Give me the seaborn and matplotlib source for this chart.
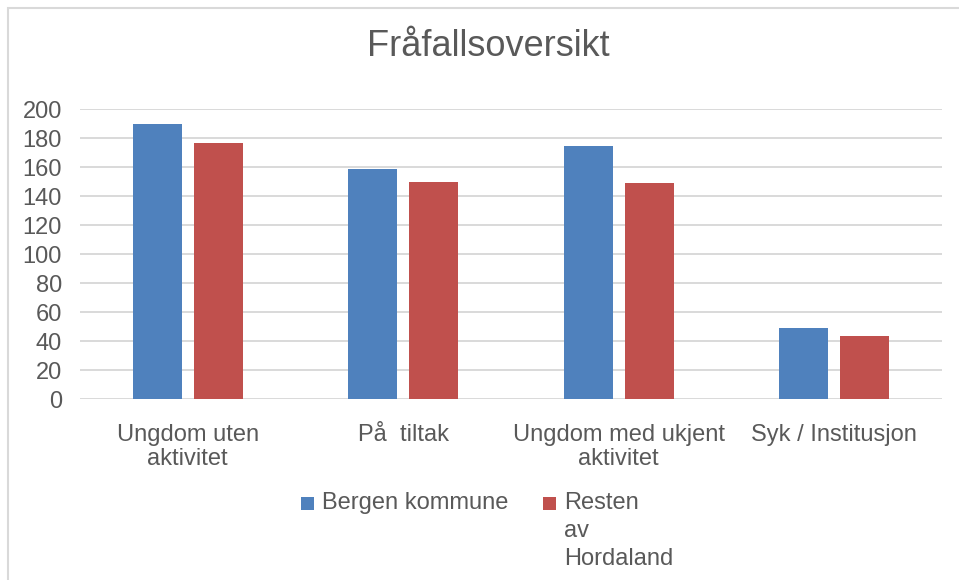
import pandas as pd
import matplotlib.pyplot as plt
import seaborn as sns
from matplotlib.patches import Rectangle
from matplotlib.legend_handler import HandlerPatch

# values
categories = ['Ungdom uten\naktivitet', 'På  tiltak', 'Ungdom med ukjent\naktivitet', 'Syk / Institusjon']
series = ['Bergen kommune', 'Resten\nav\nHordaland']
bergen = [190, 159, 175, 49]
resten = [177, 150, 149, 44]
yticks = list(range(0, 201, 20))

df = pd.DataFrame({
    'Kategori': categories * 2,
    'Antall': bergen + resten,
    'Område': [series[0]] * len(categories) + [series[1]] * len(categories),
})

sns.set_theme(style='white')
plt.rcParams['font.family'] = ['Liberation Sans', 'DejaVu Sans']
text_color = '#595959'
grid_color = '#D9D9D9'

fig = plt.figure(figsize=(9.59, 5.8), dpi=100)
ax = fig.add_axes([80 / 959, 1 - 399.3 / 580, 862 / 959, 290 / 580])

sns.barplot(data=df, x='Kategori', y='Antall', hue='Område',
            palette=['#4F81BD', '#C0504D'], width=0.566, gap=0.2,
            saturation=1, linewidth=0, ax=ax)

ax.set_ylim(0, 200)
ax.set_xlim(-0.5, 3.5)
ax.set_yticks(yticks)
ax.set_xlabel('')
ax.set_ylabel('')
ax.yaxis.grid(True, color=grid_color, linewidth=1.4)
ax.set_axisbelow(True)
for s in ax.spines.values():
    s.set_visible(False)
ax.tick_params(axis='y', length=0, labelsize=17, labelcolor=text_color, pad=13)
ax.tick_params(axis='x', length=0, labelsize=17, labelcolor=text_color, pad=18)
for lbl in ax.get_xticklabels():
    lbl.set_linespacing(1.1)

# title
fig.text(488.5 / 959, 1 - 56 / 580, 'Fråfallsoversikt', ha='center', va='baseline',
         fontsize=26, color=text_color)


# small square marker sitting on the first text line
def square(legend, orig_handle, xdescent, ydescent, width, height, fontsize):
    return Rectangle((-xdescent, -ydescent), width, 0.55 * fontsize)


handles, labels = ax.get_legend_handles_labels()
ax.get_legend().remove()
leg = fig.legend(handles, labels, ncol=2, loc='upper left',
                 bbox_to_anchor=(301 / 959, 1 - 492 / 580), frameon=False,
                 fontsize=17, labelcolor=text_color, handlelength=0.55, handleheight=0.8,
                 handletextpad=0.34, columnspacing=1.45, borderpad=0, borderaxespad=0,
                 handler_map={h: HandlerPatch(patch_func=square) for h in handles})
for t in leg.get_texts():
    t.set_linespacing(1.35)
# align entries on the top line instead of the middle of the wrapped label
leg._legend_handle_box.align = 'top'
for col in leg._legend_handle_box.get_children():
    for entry in col.get_children():
        entry.align = 'top'

# chart border (cropped on right and bottom)
fig.patches.append(Rectangle((8 / 959, -0.05), 1.1, 1 - 8 / 580 + 0.05,
                             transform=fig.transFigure, fill=False,
                             edgecolor=grid_color, linewidth=1.5))

fig.savefig('out.png', dpi=100)
plt.close(fig)
